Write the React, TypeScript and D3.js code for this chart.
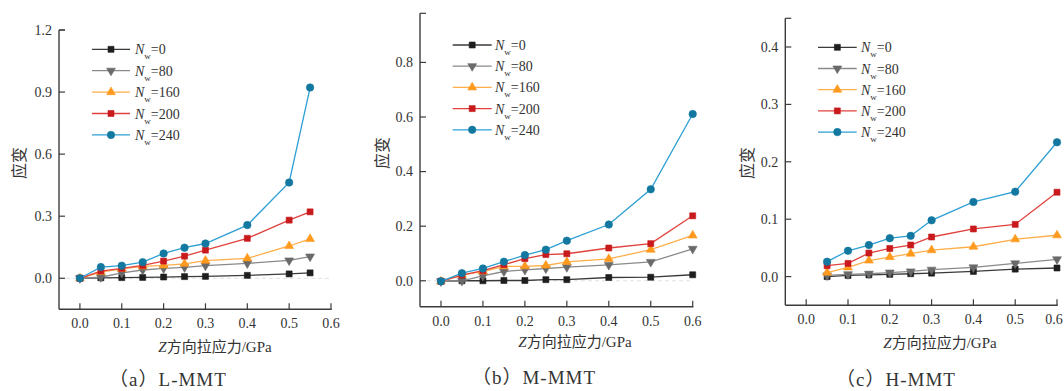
import React from "react";
import * as d3 from "d3";

const seriesNames = ["0", "80", "160", "200", "240"];
const lineColors = ["#3a3a3a", "#8a8a8a", "#ffae4a", "#e0413c", "#2c9fd4"];
const markerColors = ["#1e1e1e", "#6a6a6a", "#ff9a1f", "#c8191c", "#13789f"];
const markerTypes = ["square", "down", "up", "square", "circle"];

const xTicks = [0, 0.1, 0.2, 0.3, 0.4, 0.5, 0.6];

// Panel (a) L-MMT
const xA = [0, 0.05, 0.1, 0.15, 0.2, 0.25, 0.3, 0.4, 0.5, 0.55];
const a0 = [0, 0.002, 0.003, 0.004, 0.006, 0.008, 0.009, 0.014, 0.021, 0.026];
const a80 = [0, 0.005, 0.026, 0.04, 0.048, 0.053, 0.061, 0.072, 0.086, 0.105];
const a160 = [0, 0.03, 0.045, 0.057, 0.062, 0.07, 0.085, 0.096, 0.156, 0.19];
const a200 = [0, 0.035, 0.048, 0.062, 0.083, 0.107, 0.136, 0.193, 0.281, 0.321];
const a240 = [0, 0.054, 0.061, 0.078, 0.12, 0.148, 0.168, 0.257, 0.463, 0.922];
const yTicksA = [0, 0.3, 0.6, 0.9, 1.2];

// Panel (b) M-MMT
const xB = [0, 0.05, 0.1, 0.15, 0.2, 0.25, 0.3, 0.4, 0.5, 0.6];
const b0 = [-0.002, 0, 0, 0.001, 0.001, 0.004, 0.004, 0.012, 0.013, 0.022];
const b80 = [-0.002, 0, 0.018, 0.034, 0.04, 0.045, 0.05, 0.058, 0.069, 0.117];
const b160 = [-0.002, 0.022, 0.034, 0.053, 0.053, 0.056, 0.069, 0.08, 0.114, 0.166];
const b200 = [-0.002, 0.021, 0.037, 0.059, 0.081, 0.096, 0.099, 0.12, 0.136, 0.238];
const b240 = [-0.002, 0.028, 0.045, 0.07, 0.094, 0.114, 0.147, 0.206, 0.335, 0.611];
const yTicksB = [0, 0.2, 0.4, 0.6, 0.8];

// Panel (c) H-MMT
const xC = [0.05, 0.1, 0.15, 0.2, 0.25, 0.3, 0.4, 0.5, 0.6];
const c0 = [0, 0.002, 0.003, 0.004, 0.005, 0.006, 0.009, 0.013, 0.015];
const c80 = [0.002, 0.004, 0.005, 0.007, 0.009, 0.012, 0.016, 0.023, 0.03];
const c160 = [0.007, 0.016, 0.028, 0.034, 0.04, 0.046, 0.052, 0.065, 0.072];
const c200 = [0.019, 0.023, 0.041, 0.049, 0.055, 0.069, 0.083, 0.091, 0.147];
const c240 = [0.026, 0.045, 0.055, 0.067, 0.071, 0.098, 0.13, 0.148, 0.234];
const yTicksC = [0, 0.1, 0.2, 0.3, 0.4];

const serif = "'Liberation Serif', 'Times New Roman', 'Noto Sans CJK SC', serif";
const axisColor = "#3c3c3c";

const panels = [
  {
    xs: xA, ys: [a0, a80, a160, a200, a240], yTicks: yTicksA, yFmt: d3.format(".1f"),
    xDom: [-0.05, 0.6], xRange: [59, 331], yDom: [-0.15, 1.2], yRange: [309.3, 30],
    legend: { x1: 92, x2: 130, tx: 135, y0: 49.3, dy: 21.4 },
    ylab: { x: 19, y: 163 }, xlab: { x: 215, y: 352 }, cap: { x: 168, y: 386, t: "（a）L-MMT" },
    zeroLine: true,
  },
  {
    xs: xB, ys: [b0, b80, b160, b200, b240], yTicks: yTicksB, yFmt: d3.format(".1f"),
    xDom: [-0.05, 0.6], xRange: [420, 692.7], yDom: [-0.095, 0.98], yRange: [306.7, 13.3],
    legend: { x1: 452.7, x2: 491.7, tx: 495, y0: 45, dy: 21.2 },
    ylab: { x: 382, y: 153 }, xlab: { x: 575, y: 347 }, cap: { x: 534, y: 384, t: "（b）M-MMT" },
    zeroLine: true,
  },
  {
    xs: xC, ys: [c0, c80, c160, c200, c240], yTicks: yTicksC, yFmt: d3.format(".1f"),
    xDom: [-0.05, 0.6], xRange: [785.3, 1057], yDom: [-0.05, 0.45], yRange: [305.3, 18.3],
    legend: { x1: 818, x2: 856.7, tx: 861, y0: 47.3, dy: 21.2 },
    ylab: { x: 747, y: 163 }, xlab: { x: 940, y: 348 }, cap: { x: 896, y: 386, t: "（c）H-MMT" },
    zeroLine: false,
  },
];

function markerPath(type: string) {
  if (type === "circle") return d3.symbol().type(d3.symbolCircle).size(44)();
  if (type === "square") return d3.symbol().type(d3.symbolSquare).size(36)();
  return d3.symbol().type(d3.symbolTriangle).size(34)();
}

function Marker({ type, x, y, color }: { type: string; x: number; y: number; color: string }) {
  const rot = type === "down" ? 180 : 0;
  return (
    <path
      d={markerPath(type) as string}
      transform={`translate(${x},${y}) rotate(${rot})`}
      fill={color}
      stroke={color}
      strokeWidth={0.6}
    />
  );
}

function Panel({ p }: { p: (typeof panels)[number] }) {
  const x = d3.scaleLinear().domain(p.xDom).range(p.xRange);
  const y = d3.scaleLinear().domain(p.yDom).range(p.yRange);
  const line = d3.line<number>().x((_, i) => x(p.xs[i])).y((d) => y(d));
  const left = p.xRange[0];
  const bottom = p.yRange[0];
  const top = p.yRange[1];
  const right = p.xRange[1];
  return (
    <g>
      {p.zeroLine && (
        <line x1={left} x2={right} y1={y(0)} y2={y(0)} stroke="#d8d8d8" strokeWidth={0.8} strokeDasharray="4,3" />
      )}
      {p.ys.map((vals, si) => (
        <g key={si}>
          <path d={line(vals) as string} fill="none" stroke={lineColors[si]} strokeWidth={1.3} />
          {vals.map((v, i) => (
            <Marker key={i} type={markerTypes[si]} x={x(p.xs[i])} y={y(v)} color={markerColors[si]} />
          ))}
        </g>
      ))}
      {/* axes */}
      <line x1={left} x2={left} y1={top} y2={bottom} stroke={axisColor} strokeWidth={1.4} />
      <line x1={left} x2={right + 0.7} y1={bottom} y2={bottom} stroke={axisColor} strokeWidth={1.4} />
      <line x1={left} x2={left + 6} y1={top} y2={top} stroke={axisColor} strokeWidth={1.2} />
      {p.yTicks.map((t) => (
        <g key={t}>
          <line x1={left} x2={left + 6} y1={y(t)} y2={y(t)} stroke={axisColor} strokeWidth={1.2} />
          <text x={left - 7} y={y(t)} dy="0.35em" textAnchor="end" fontFamily={serif} fontSize={14} fill="#333">
            {p.yFmt(t)}
          </text>
        </g>
      ))}
      {xTicks.map((t) => (
        <g key={t}>
          <line x1={x(t)} x2={x(t)} y1={bottom} y2={bottom - 6} stroke={axisColor} strokeWidth={1.2} />
          <text
            x={Math.min(x(t), 1054)}
            y={bottom + 19}
            textAnchor="middle"
            fontFamily={serif}
            fontSize={14}
            fill="#333"
          >
            {d3.format(".1f")(t)}
          </text>
        </g>
      ))}
      {/* legend */}
      {seriesNames.map((n, i) => {
        const ly = p.legend.y0 + i * p.legend.dy;
        return (
          <g key={n}>
            <line x1={p.legend.x1} x2={p.legend.x2} y1={ly} y2={ly} stroke={lineColors[i]} strokeWidth={1.3} />
            <Marker type={markerTypes[i]} x={(p.legend.x1 + p.legend.x2) / 2} y={ly} color={markerColors[i]} />
            <text x={p.legend.tx} y={ly + 5} fontFamily={serif} fontSize={14} fill="#333">
              <tspan fontStyle="italic">N</tspan>
              <tspan fontSize={9} dy={5}>w</tspan>
              <tspan dy={-5}>={n}</tspan>
            </text>
          </g>
        );
      })}
      {/* axis labels */}
      <text
        transform={`translate(${p.ylab.x},${p.ylab.y}) rotate(-90)`}
        textAnchor="middle"
        dy="0.35em"
        fontFamily={serif}
        fontSize={16}
        fill="#333"
      >
        应变
      </text>
      <text x={p.xlab.x} y={p.xlab.y} textAnchor="middle" fontFamily={serif} fontSize={15} fill="#333">
        <tspan fontStyle="italic">Z</tspan>方向拉应力/GPa
      </text>
      <text x={p.cap.x} y={p.cap.y} textAnchor="middle" fontFamily={serif} fontSize={19} letterSpacing={1} fill="#333">
        {p.cap.t}
      </text>
    </g>
  );
}

export default function App() {
  return (
    <svg
      width={1064}
      height={391}
      style={{ position: "absolute", left: 0, top: 0, background: "#fff" }}
    >
      {panels.map((p, i) => (
        <Panel key={i} p={p} />
      ))}
    </svg>
  );
}
